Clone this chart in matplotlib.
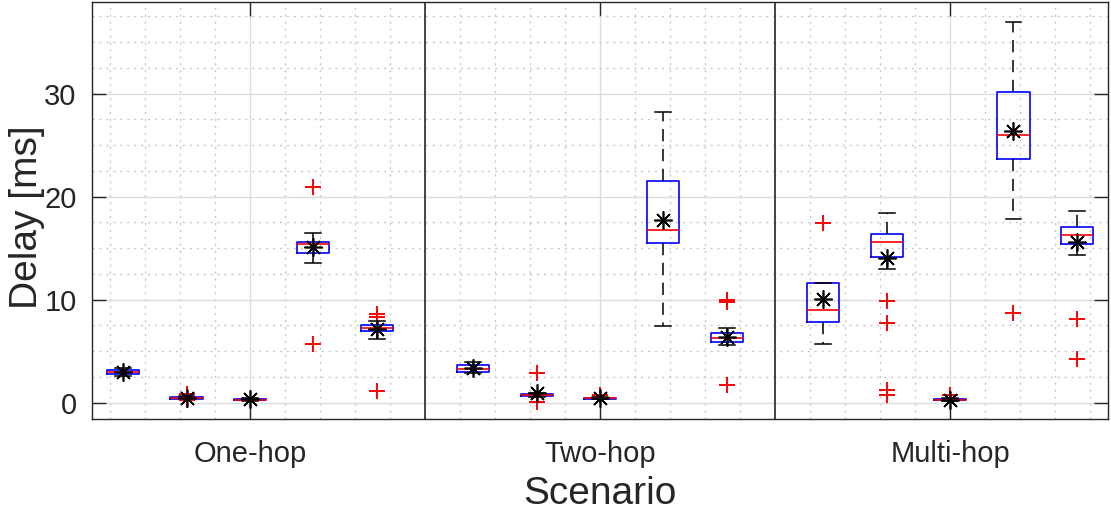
import numpy as np
import matplotlib.pyplot as plt
from matplotlib.ticker import MultipleLocator

plt.rcParams['font.family'] = ['Liberation Sans', 'DejaVu Sans']

# ---------------------------------------------------------------------------
# Data, five boxes per scenario
# ---------------------------------------------------------------------------
scenarios = ["One-hop", "Two-hop", "Multi-hop"]

q1 = [[2.8, 0.38, 0.22, 14.5, 6.95],
      [3.0, 0.65, 0.33, 15.45, 5.9],
      [7.8, 14.15, 0.22, 23.7, 15.4]]
med = [[3.0, 0.45, 0.28, 15.4, 7.25],
       [3.3, 0.75, 0.4, 16.75, 6.3],
       [8.95, 15.55, 0.28, 25.95, 16.3]]
q3 = [[3.2, 0.52, 0.34, 15.6, 7.55],
      [3.68, 0.85, 0.45, 21.55, 6.75],
      [11.65, 16.4, 0.34, 30.2, 17.05]]
whislo = [[2.6, 0.3, 0.15, 13.6, 6.2],
          [2.9, 0.55, 0.3, 7.45, 5.55],
          [5.7, 13.0, 0.15, 17.85, 14.3]]
whishi = [[3.4, 0.6, 0.4, 16.5, 7.9],
          [3.9, 0.95, 0.5, 28.2, 7.2],
          [11.65, 18.45, 0.4, 36.95, 18.6]]
means = [[3.0, 0.45, 0.3, 15.1, 7.15],
         [3.4, 0.94, 0.45, 17.7, 6.4],
         [10.1, 14.05, 0.25, 26.4, 15.55]]
fliers = [[[], [0.85, 0.2], [], [20.9, 5.7], [8.3, 8.6, 1.1]],
          [[], [2.9, 0.1], [0.7], [], [9.8, 10.0, 1.7]],
          [[17.45], [9.85, 7.7, 1.25, 0.7], [0.7], [8.65], [8.1, 4.25]]]

box_offsets = [-0.362, -0.181, 0.0, 0.181, 0.362]

fig = plt.figure(figsize=(11.11, 5.15), dpi=100)
ax = fig.add_axes([0.0828, 0.1864, 0.9145, 0.8096])

stats, positions = [], []
for g in range(len(scenarios)):
    for b in range(5):
        stats.append(dict(med=med[g][b], q1=q1[g][b], q3=q3[g][b],
                          whislo=whislo[g][b], whishi=whishi[g][b],
                          mean=means[g][b], fliers=fliers[g][b]))
        positions.append(g + 1 + box_offsets[b])

# MATLAB-style asterisk for the mean: 8 arms
ax.bxp(stats, positions=positions, widths=0.092, capwidths=0.045,
       showmeans=True, showfliers=True, manage_ticks=False,
       boxprops=dict(color="blue", linewidth=1.2),
       medianprops=dict(color="red", linewidth=1.2),
       whiskerprops=dict(color="black", linestyle=(0, (8, 5)), linewidth=1.1),
       capprops=dict(color="black", linewidth=1.1),
       meanprops=dict(marker=(8, 2, 0), markerfacecolor="black",
                      markeredgecolor="black", markersize=13,
                      markeredgewidth=1.2, linestyle="none"),
       flierprops=dict(marker="+", markeredgecolor="red", markersize=11,
                       markeredgewidth=1.4, linestyle="none"))

# group separators
for xs in [1.5, 2.5]:
    ax.axvline(xs, color="#262626", linewidth=1.2, zorder=3)

ax.set_xlim(0.549, 3.451)
ax.set_ylim(-1.6, 38.9)
ax.set_xticks([1, 2, 3])
ax.set_xticklabels(scenarios)
ax.set_yticks([0, 10, 20, 30])
ax.xaxis.set_minor_locator(MultipleLocator(0.1))
ax.yaxis.set_minor_locator(MultipleLocator(2.5))

ax.grid(True, which="major", color="#dcdcdc", linewidth=1.0)
ax.grid(True, which="minor", color="#c8c8c8", linestyle=(0, (1.5, 3.5)),
        linewidth=1.0)
ax.set_axisbelow(True)

ax.tick_params(which="major", direction="in", length=10, width=1.0,
               top=True, right=True, labelsize=21, colors="#262626")
ax.tick_params(axis="x", which="major", pad=15)
ax.tick_params(axis="y", which="major", pad=11)
ax.tick_params(which="minor", length=0)
for sp in ax.spines.values():
    sp.set_color("#262626")
    sp.set_linewidth(1.0)

ax.set_xlabel("Scenario", fontsize=28, color="#262626", labelpad=6)
ax.set_ylabel("Delay [ms]", fontsize=28, color="#262626")
ax.yaxis.set_label_coords(-0.046, 0.484)

fig.savefig("out.png", dpi=100)
